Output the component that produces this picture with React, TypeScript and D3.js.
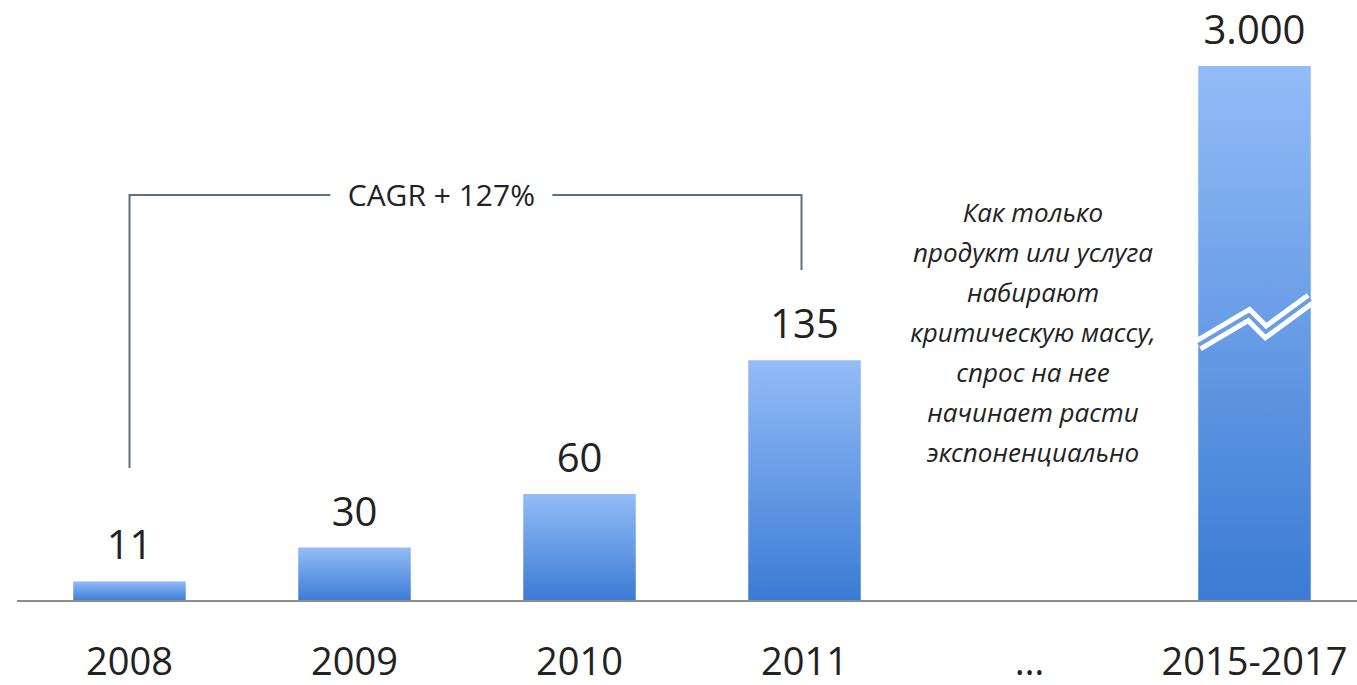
import React from "react";
import * as d3 from "d3";

const categories = ["2008", "2009", "2010", "2011", "…", "2015-2017"];
const values: (number | null)[] = [11, 30, 60, 135, null, 3000];
const valueLabels = ["11", "30", "60", "135", "", "3.000"];
// The last bar is drawn truncated (broken axis); this is its displayed height in data units
const brokenIndex = 5;
const brokenDisplayValue = 300;
const breakFractions = [0, 0.45, 0.6, 1];
const breakValues = [143.6, 160.4, 150.9, 169.4];
const cagrLabel = "CAGR + 127%";
const noteLines = [
  "Как только",
  "продукт или услуга",
  "набирают",
  "критическую массу,",
  "спрос на нее",
  "начинает расти",
  "экспоненциально",
];

const W = 1357;
const H = 685;

export default function App() {
  const x = d3
    .scaleBand<string>()
    .domain(categories)
    .range([17, 1367])
    .paddingInner(0.5)
    .paddingOuter(0.25);
  const y = d3.scaleLinear().domain([0, brokenDisplayValue]).range([601, 66]);
  const bw = x.bandwidth();

  const shown = (i: number) =>
    i === brokenIndex ? brokenDisplayValue : (values[i] as number);

  const c0 = x(categories[0])! + bw / 2;
  const c3 = x(categories[3])! + bw / 2;
  const bracketTop = 195;
  const labelX = c0 + (c3 - c0) * 0.462;
  const gapHalf = 111;

  const bx = x(categories[brokenIndex])!;
  const breakLine = d3
    .line<number>()
    .x((f) => bx + f * bw)
    .y((_, i) => y(breakValues[i]))
    .curve(d3.curveLinear)(breakFractions);

  const font = "'Open Sans', 'Noto Sans', sans-serif";
  const lineColor = "#5d7184";

  return (
    <svg
      width={W}
      height={H}
      style={{ position: "absolute", left: 0, top: 0, background: "#fff" }}
    >
      <defs>
        <linearGradient id="barGrad" x1="0" y1="0" x2="0" y2="1">
          <stop offset="0%" stopColor="#93bcf7" />
          <stop offset="100%" stopColor="#3b7bd4" />
        </linearGradient>
      </defs>

      {categories.map((c, i) =>
        values[i] == null ? null : (
          <rect
            key={c}
            x={x(c)}
            y={y(shown(i))}
            width={bw}
            height={y(0) - y(shown(i))}
            fill="url(#barGrad)"
          />
        )
      )}

      {breakLine && (
        <g>
          <path d={breakLine} fill="none" stroke="#ffffff" strokeWidth={14} />
          <path d={breakLine} fill="none" stroke="#6b9de3" strokeWidth={4} />
        </g>
      )}

      <line x1={17} x2={W} y1={y(0)} y2={y(0)} stroke="#8c8c8c" strokeWidth={2} />

      {categories.map((c, i) =>
        values[i] == null ? null : (
          <text
            key={"v" + c}
            x={x(c)! + bw / 2}
            y={y(shown(i)) - 22}
            textAnchor="middle"
            fontFamily={font}
            fontSize={40}
            fill="#222"
          >
            {valueLabels[i]}
          </text>
        )
      )}

      {categories.map((c) => (
        <text
          key={"c" + c}
          x={x(c)! + bw / 2}
          y={675}
          textAnchor="middle"
          fontFamily={font}
          fontSize={38}
          fill="#222"
        >
          {c}
        </text>
      ))}

      {/* CAGR bracket */}
      <path
        d={`M${c0},468 V${bracketTop} H${labelX - gapHalf}`}
        fill="none"
        stroke={lineColor}
        strokeWidth={2}
      />
      <path
        d={`M${labelX + gapHalf},${bracketTop} H${c3 - 3} V270`}
        fill="none"
        stroke={lineColor}
        strokeWidth={2}
      />
      <text
        x={labelX}
        y={206}
        textAnchor="middle"
        fontFamily={font}
        fontSize={30}
        fill="#222"
      >
        {cagrLabel}
      </text>

      {noteLines.map((t, i) => (
        <text
          key={t}
          x={1033}
          y={222 + i * 40}
          textAnchor="middle"
          fontFamily={font}
          fontStyle="italic"
          fontSize={26}
          fill="#222"
        >
          {t}
        </text>
      ))}
    </svg>
  );
}
